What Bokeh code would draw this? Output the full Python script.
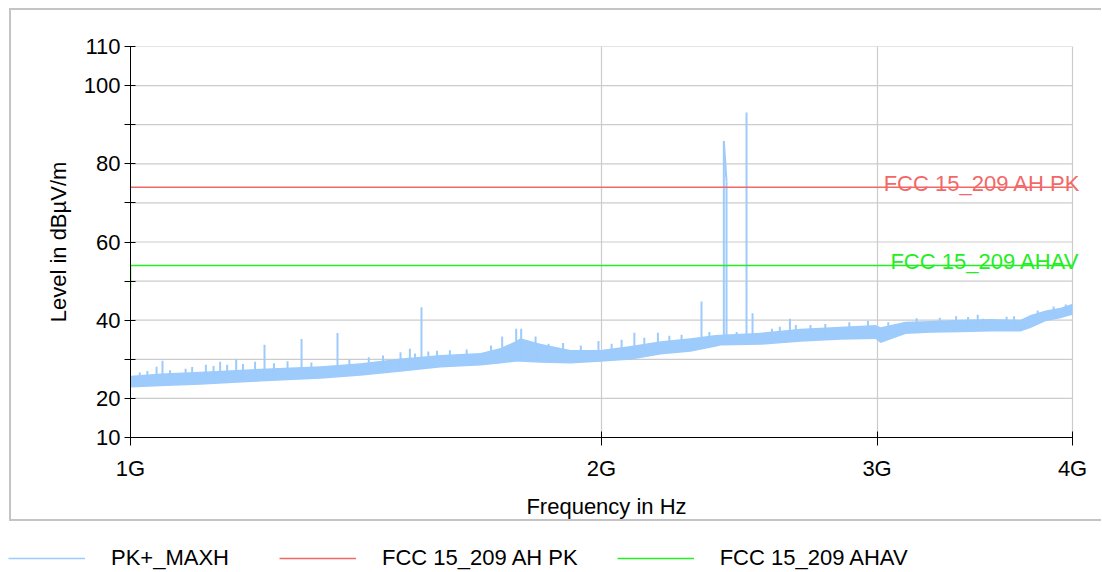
from bokeh.plotting import figure
from bokeh.models import FixedTicker, Label, Legend, LegendItem, Range1d
from bokeh.embed import file_html
from bokeh.resources import INLINE

# ---------------- data ----------------
# PK+_MAXH trace: lower / upper edge of the dense noise band (GHz, dBuV/m)
freq_ghz = [1.000, 1.0451, 1.1085, 1.2108, 1.3226, 1.4028, 1.4879, 1.5780, 1.6738,
            1.7238, 1.7623, 1.7752, 1.8283, 1.9108, 1.9970, 2.0872, 2.1815, 2.2798,
            2.3653, 2.3828, 2.5273, 2.6806, 2.8431, 2.9934, 3.0156, 3.1286, 3.2458,
            3.3923, 3.5454, 3.7055, 3.7604, 3.8444, 3.9302, 4.000]
trace_upper = [25.8, 26.4, 26.8, 27.6, 28.2, 29.0, 30.2, 31.1, 31.6,
               32.9, 34.6, 35.4, 34.0, 32.4, 32.4, 33.4, 34.6, 35.4,
               36.2, 36.3, 36.8, 37.8, 38.3, 38.8, 38.2, 39.6, 39.8,
               40.1, 40.3, 40.1, 41.3, 42.5, 43.2, 44.2]
trace_lower = [22.8, 23.1, 23.5, 24.3, 25.0, 25.8, 26.8, 27.9, 28.4,
               28.9, 29.4, 29.4, 29.1, 28.9, 29.4, 29.9, 31.2, 31.9,
               33.2, 33.5, 33.7, 34.5, 35.0, 35.2, 34.2, 36.5, 36.8,
               36.9, 37.1, 37.1, 38.0, 39.7, 40.5, 41.4]

# single peaks rising above the band
spike_freq = [1.0137, 1.0251, 1.0391, 1.0482, 1.0600, 1.0845, 1.0950, 1.1173, 1.1300,
              1.1410, 1.1529, 1.1683, 1.1800, 1.2012, 1.2180, 1.2350, 1.2600, 1.2862,
              1.3050, 1.3561, 1.3800, 1.4200, 1.4500, 1.4879, 1.5085, 1.5200, 1.5345,
              1.5500, 1.5700, 1.6000, 1.6400, 1.7000, 1.7280, 1.7640, 1.7770, 1.8150,
              1.8500, 1.8900, 1.9400, 1.9910, 2.0300, 2.0600, 2.0990, 2.1300, 2.1730,
              2.2100, 2.2500, 2.3170, 2.3440, 2.3944, 2.4039, 2.4400, 2.4757, 2.4977,
              2.5700, 2.6000, 2.6390, 2.6620, 2.7200, 2.7800, 2.8800, 2.9600, 3.0500,
              3.1800, 3.2900, 3.3700, 3.4300, 3.4790, 3.5050, 3.6300, 3.6700, 3.8000,
              3.8900, 3.9600]
spike_base = [24.0, 24.0, 24.2, 24.2, 24.3, 24.5, 24.5, 24.8, 24.8,
              25.0, 25.0, 25.2, 25.2, 25.4, 25.5, 25.6, 25.8, 26.0,
              26.0, 26.5, 26.8, 27.0, 27.3, 27.8, 28.0, 28.2, 28.5,
              28.6, 28.8, 29.0, 29.3, 29.8, 30.0, 30.5, 30.5, 30.0,
              29.8, 29.5, 29.5, 29.8, 30.0, 30.3, 30.8, 31.0, 31.8,
              32.3, 32.5, 33.5, 33.8, 34.5, 34.5, 34.8, 35.0, 35.0,
              35.2, 35.5, 36.0, 36.0, 36.3, 36.5, 36.8, 37.0, 36.5,
              37.5, 37.8, 38.0, 38.0, 38.0, 38.0, 38.2, 38.2, 39.5,
              40.5, 41.2]
spike_peak = [26.6, 27.0, 28.1, 29.6, 27.2, 27.6, 28.0, 28.6, 28.3,
              29.4, 28.6, 30.1, 28.8, 29.4, 33.7, 29.0, 29.5, 35.2,
              29.2, 36.7, 30.0, 30.5, 31.0, 31.8, 32.7, 31.5, 43.3,
              32.0, 32.2, 32.3, 32.5, 33.5, 35.8, 37.8, 37.8, 35.8,
              34.0, 34.2, 33.5, 34.7, 34.0, 35.0, 36.8, 35.5, 36.8,
              36.0, 36.3, 44.8, 37.0, 85.8, 75.5, 37.0, 93.1, 41.8,
              37.8, 38.3, 40.4, 38.8, 38.8, 39.0, 39.5, 39.8, 39.5,
              40.5, 40.6, 41.0, 40.8, 41.4, 40.4, 40.9, 41.0, 42.5,
              43.5, 44.0]

pk_freq = [1.0, 4.0]
pk_level = [74, 74]
av_freq = [1.0, 1.0, 4.0]
av_level = [48, 54, 54]

series_names = ["PK+_MAXH", "FCC 15_209 AH PK", "FCC 15_209 AHAV"]

x_ticks = [1, 2, 3, 4]
x_tick_labels = ["1G", "2G", "3G", "4G"]
y_ticks = [10, 20, 30, 40, 50, 60, 70, 80, 90, 100, 110]
y_tick_labels = ["10", "20", "", "40", "", "60", "", "80", "", "100", "110"]

# ---------------- style ----------------
FONT = "Liberation Sans"
FS = "22px"
TRACE = "#9dcbfb"
RED = "#f26868"
GREEN = "#22ee22"
GRID = "#cccccc"
BOX = "#c4c4c4"

p = figure(width=1101, height=521, x_axis_type="log",
           x_range=Range1d(1, 4.059), y_range=Range1d(10, 110),
           output_backend="svg", toolbar_location=None,
           min_border_left=130, min_border_right=19,
           min_border_top=46, min_border_bottom=83)
p.outline_line_color = None
p.border_fill_alpha = 0
p.background_fill_color = "white"
p.styles = {
    "background-image": ("linear-gradient(%s,%s), linear-gradient(%s,%s), "
                         "linear-gradient(%s,%s)") % ((BOX,) * 6),
    "background-size": "1093px 2px, 2px 512px, 1093px 2px",
    "background-position": "9px 8px, 9px 8px, 9px 519px",
    "background-repeat": "no-repeat",
}

# horizontal grid lines spanning the measured band only
p.segment(x0=[x_ticks[0]] * len(y_ticks), y0=y_ticks,
          x1=[x_ticks[-1]] * len(y_ticks), y1=y_ticks,
          line_color=GRID, line_width=1.2, level="underlay")

# trace
p.varea(x=freq_ghz, y1=trace_lower, y2=trace_upper, fill_color=TRACE)
p.segment(x0=spike_freq, y0=spike_base, x1=spike_freq, y1=spike_peak,
          line_color=TRACE, line_width=2)
i_a, i_b = spike_peak.index(85.8), spike_peak.index(75.5)
p.segment(x0=[spike_freq[i_a]], y0=[spike_peak[i_a]], x1=[spike_freq[i_b]], y1=[spike_peak[i_b]],
          line_color=TRACE, line_width=2)

# limit lines
p.line(pk_freq, pk_level, line_color=RED, line_width=1.5)
p.line(av_freq, av_level, line_color=GREEN, line_width=1.5)

p.add_layout(Label(x=4, y=74, text=series_names[1], text_align="right",
                   text_baseline="alphabetic", x_offset=8, y_offset=4,
                   text_color=RED, text_font=FONT, text_font_size=FS))
p.add_layout(Label(x=4, y=54, text=series_names[2], text_align="right",
                   text_baseline="alphabetic", x_offset=7, y_offset=4,
                   text_color=GREEN, text_font=FONT, text_font_size=FS))

# axes
p.xaxis.ticker = FixedTicker(ticks=x_ticks, minor_ticks=[])
p.xaxis.major_label_overrides = dict(zip(x_ticks, x_tick_labels))
p.xaxis.bounds = (x_ticks[0], x_ticks[-1])
p.yaxis.ticker = FixedTicker(ticks=y_ticks, minor_ticks=[])
p.yaxis.major_label_overrides = dict(zip(y_ticks, y_tick_labels))

for ax in (p.xaxis, p.yaxis):
    ax.axis_line_color = "black"
    ax.major_tick_line_color = "black"
    ax.minor_tick_line_color = None
    ax.major_label_text_font = FONT
    ax.major_label_text_font_size = FS
    ax.major_label_text_color = "black"
    ax.axis_label_text_font = FONT
    ax.axis_label_text_font_size = FS
    ax.axis_label_text_font_style = "normal"
    ax.axis_label_text_color = "black"

p.xaxis.axis_label = "Frequency in Hz"
p.xaxis.major_tick_in = 6
p.xaxis.major_tick_out = 8
p.xaxis.major_label_standoff = 10
p.xaxis.axis_label_standoff = 10

p.yaxis.axis_label = "Level in dBµV/m"
p.yaxis.major_tick_in = 5
p.yaxis.major_tick_out = 6
p.yaxis.major_label_standoff = 4
p.yaxis.axis_label_standoff = 10

p.xgrid.grid_line_color = GRID
p.xgrid.grid_line_width = 1.2
p.ygrid.visible = False

# ---------------- legend strip (separate root below the box) ----------------
lg = figure(width=1101, height=50, x_range=Range1d(0, 1101), y_range=Range1d(0, 50),
            x_axis_location=None, y_axis_location=None,
            output_backend="svg", toolbar_location=None, min_border=0)
lg.grid.visible = False
lg.outline_line_color = None
lg.border_fill_alpha = 0
lg.background_fill_alpha = 0
key_trace = lg.line(x=[-20, -10], y=[-20, -20], line_color=TRACE, line_width=1.5)
key_pk = lg.line(x=[-20, -10], y=[-20, -20], line_color=RED, line_width=1.5)
key_av = lg.line(x=[-20, -10], y=[-20, -20], line_color=GREEN, line_width=1.5)

legend = Legend(items=[LegendItem(label=series_names[0], renderers=[key_trace]),
                       LegendItem(label=series_names[1], renderers=[key_pk]),
                       LegendItem(label=series_names[2], renderers=[key_av])],
                location=(8, 0), orientation="horizontal",
                glyph_width=77, glyph_height=26, label_height=26, label_width=129,
                label_standoff=26, spacing=39, padding=0, margin=0,
                border_line_color=None, background_fill_alpha=0,
                label_text_font=FONT, label_text_font_size=FS,
                label_text_color="black")
lg.add_layout(legend)

open("out.html", "w").write(file_html([p, lg], INLINE))
